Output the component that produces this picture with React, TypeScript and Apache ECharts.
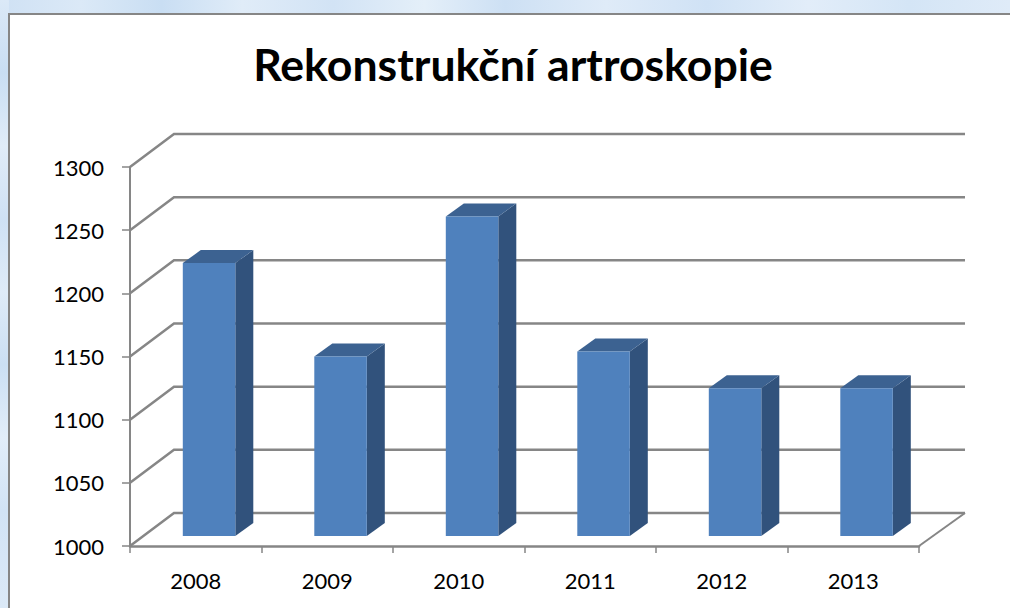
import React, { useEffect, useRef } from "react";
import * as echarts from "echarts";

const categories = ["2008", "2009", "2010", "2011", "2012", "2013"];
const values = [1216, 1142, 1253, 1146, 1117, 1117];
const gridValues = [1000, 1050, 1100, 1150, 1200, 1250, 1300];

const DEPTH_X = 44;
const DEPTH_Y = 33;
const GRID_LEFT = 130;
const GRID_TOP = 167;
const GRID_W = 789;
const GRID_H = 379;
const LINE = "#868686";

const topStrip =
  "linear-gradient(90deg,#cfe1f4 0%,#dbe9f7 8%,#c9def3 16%,#e0ecf8 24%,#d2e3f5 33%,#e4eff9 42%,#cde0f4 50%,#dfebf8 60%,#d0e2f5 70%,#e2edf9 80%,#d4e5f6 90%,#dfebf8 100%)";
const leftStrip =
  "linear-gradient(180deg,#dbe9f7 0%,#c9def3 12%,#e0ecf8 24%,#cfe1f4 36%,#dfebf8 48%,#cbdff3 60%,#e2edf9 72%,#d2e3f5 84%,#dbe9f7 100%)";

export default function App() {
  const ref = useRef<HTMLDivElement>(null);
  useEffect(() => {
    const chart = echarts.init(ref.current!, undefined, { renderer: "svg" });
    const textStyle = { color: "#000", fontFamily: "Lato, 'Open Sans', sans-serif", fontSize: 22 };
    chart.setOption({
      animation: false,
      backgroundColor: "transparent",
      title: {
        text: "Rekonstrukční artroskopie",
        left: 508,
        top: 36,
        textAlign: "center",
        textStyle: { color: "#000", fontFamily: "Lato, 'Open Sans', sans-serif", fontSize: 44.6, fontWeight: "bold" },
      },
      grid: { left: GRID_LEFT, top: GRID_TOP, width: GRID_W, height: GRID_H },
      xAxis: {
        type: "category",
        data: categories,
        axisLine: { lineStyle: { color: LINE, width: 2.5 } },
        axisTick: { show: true, length: 7, lineStyle: { color: LINE, width: 1.5 } },
        axisLabel: { ...textStyle, margin: 23 },
        splitLine: { show: false },
      },
      yAxis: {
        type: "value",
        min: 1000,
        max: 1300,
        interval: 50,
        axisLine: { show: true, lineStyle: { color: LINE, width: 2 } },
        axisTick: { show: true, length: 8, lineStyle: { color: LINE, width: 1.5 } },
        axisLabel: { ...textStyle, margin: 26, formatter: (v: number) => String(v) },
        splitLine: { show: false },
      },
      series: [
        {
          type: "custom",
          z: 1,
          data: gridValues.map((v) => [0, v]),
          encode: { x: 0, y: 1 },
          renderItem: (_p: any, api: any) => {
            const p = api.coord([0, api.value(1)]);
            const y = p[1];
            const isFloor = api.value(1) === 1000;
            const backLeft = GRID_LEFT + DEPTH_X;
            const backRight = GRID_LEFT + GRID_W + DEPTH_X + 2;
            const children: any[] = [
              {
                type: "polyline",
                shape: { points: [[GRID_LEFT, y], [backLeft, y - DEPTH_Y], [backRight, y - DEPTH_Y]] },
                style: { stroke: LINE, lineWidth: 2.5, fill: "none" },
              },
            ];
            if (isFloor) {
              children.push({
                type: "line",
                shape: { x1: GRID_LEFT + GRID_W, y1: y, x2: backRight, y2: y - DEPTH_Y },
                style: { stroke: LINE, lineWidth: 2 },
              });
            }
            return { type: "group", children };
          },
        },
        {
          type: "custom",
          z: 3,
          data: values.map((v, i) => [i, v]),
          encode: { x: 0, y: 1 },
          renderItem: (_p: any, api: any) => {
            const i = api.value(0);
            const top = api.coord([i, api.value(1)]);
            const base = api.coord([i, 1000]);
            const cx = top[0] + 13.3;
            const w = 52.5;
            const lift = 10;
            const dx = 18;
            const dy = 13;
            const x0 = cx - w / 2;
            const x1 = cx + w / 2;
            const yT = top[1] - lift;
            const yB = base[1] - lift;
            return {
              type: "group",
              children: [
                {
                  type: "polygon",
                  shape: { points: [[x1, yT], [x1 + dx, yT - dy], [x1 + dx, yB - dy], [x1, yB]] },
                  style: { fill: "#31527c" },
                },
                {
                  type: "polygon",
                  shape: { points: [[x0, yT], [x0 + dx, yT - dy], [x1 + dx, yT - dy], [x1, yT]] },
                  style: { fill: "#3c6291" },
                },
                {
                  type: "rect",
                  shape: { x: x0, y: yT, width: w, height: yB - yT },
                  style: { fill: "#4f81bd" },
                },
              ],
            };
          },
        },
      ],
    });
    return () => chart.dispose();
  }, []);
  return (
    <div
      style={{
        position: "fixed",
        inset: 0,
        width: 1010,
        height: 608,
        overflow: "hidden",
        background: "#d9e8f6",
      }}
    >
      <div style={{ position: "absolute", left: 0, top: 0, width: 1010, height: 14, background: topStrip }} />
      <div style={{ position: "absolute", left: 0, top: 0, width: 9, height: 608, background: leftStrip }} />
      <div
        style={{
          position: "absolute",
          left: 8,
          top: 13,
          width: 1010,
          height: 610,
          background: "#fff",
          border: "2px solid #868686",
          boxSizing: "border-box",
        }}
      />
      <div ref={ref} style={{ position: "absolute", left: 0, top: 0, width: 1010, height: 608 }} />
    </div>
  );
}
